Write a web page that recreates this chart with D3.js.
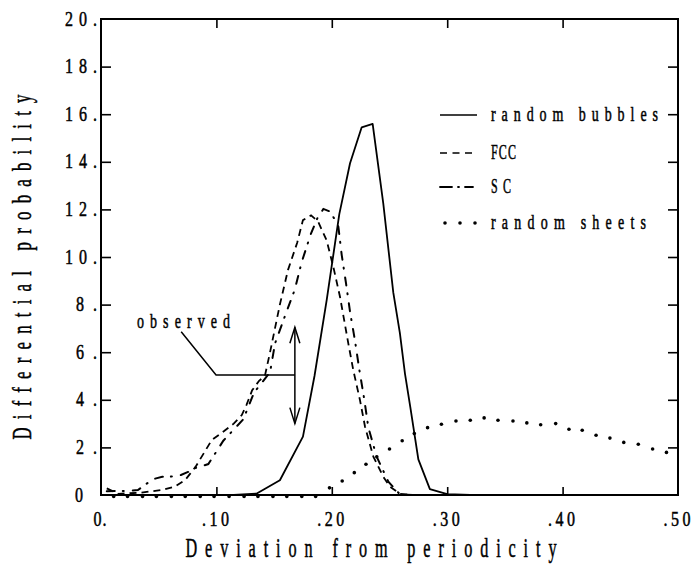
<!DOCTYPE html>
<html><head><meta charset="utf-8">
<script src="https://cdn.jsdelivr.net/npm/d3@7"></script>
<style>html,body{margin:0;padding:0;background:#fff;}svg{display:block;}</style>
</head><body>
<svg id="chart" width="693" height="564"></svg>
<script>
// ---------- data ----------
const xTicks = [0, 0.1, 0.2, 0.3, 0.4, 0.5];
const xTickLabels = ["0.", ".10", ".20", ".30", ".40", ".50"];
const yTicks = [0, 2, 4, 6, 8, 10, 12, 14, 16, 18, 20];
const yTickLabels = ["0", "2.", "4.", "6.", "8.", "10.", "12.", "14.", "16.", "18.", "20."];
const seriesNames = ["random bubbles", "FCC", "SC", "random sheets"];

const bubblesX = [0, 0.115, 0.135, 0.155, 0.175, 0.185, 0.1956, 0.2065, 0.2158, 0.2259, 0.2354, 0.2446, 0.2533, 0.259, 0.2634, 0.268, 0.275, 0.285, 0.30, 0.32, 0.5];
const bubblesY = [0, 0, 0.06, 0.62, 2.45, 5.0, 8.2, 11.8, 13.94, 15.45, 15.59, 12.25, 8.5, 6.8, 5.1, 3.7, 1.5, 0.25, 0.04, 0, 0];

const fccX = [0.005, 0.015, 0.035, 0.053, 0.064, 0.073, 0.082, 0.089, 0.096, 0.107, 0.115, 0.122, 0.126, 0.131, 0.137, 0.142, 0.1465, 0.155, 0.162, 0.170, 0.175, 0.182, 0.188, 0.1955, 0.2013, 0.2071, 0.2143, 0.2186, 0.2244, 0.2288, 0.236, 0.2446, 0.2504, 0.259, 0.27, 0.5];
const fccY = [0.28, 0.05, 0.1, 0.21, 0.35, 0.63, 1.19, 1.75, 2.31, 2.7, 3.0, 3.36, 3.78, 4.4, 4.8, 5.0, 6.0, 8.0, 9.45, 10.6, 11.55, 11.75, 11.5, 10.7, 9.59, 8.33, 6.37, 5.25, 3.99, 2.87, 1.61, 0.77, 0.35, 0.05, 0, 0];

const scX = [0.005, 0.0228, 0.032, 0.038, 0.0448, 0.053, 0.06, 0.0693, 0.076, 0.081, 0.093, 0.106, 0.1233, 0.1326, 0.1465, 0.1508, 0.1594, 0.168, 0.174, 0.1817, 0.1875, 0.1927, 0.199, 0.2057, 0.2086, 0.2123, 0.2158, 0.2201, 0.2239, 0.228, 0.2317, 0.2389, 0.249, 0.259, 0.27, 0.5];
const scY = [0.16, 0.17, 0.21, 0.42, 0.66, 0.77, 0.77, 0.84, 0.98, 1.12, 1.3, 2.28, 3.18, 4.3, 5.16, 6.37, 7.52, 8.64, 9.8, 10.95, 11.63, 12.02, 11.9, 11.27, 10.08, 8.9, 7.7, 6.48, 5.25, 4.06, 2.83, 1.61, 0.56, 0.03, 0, 0];

const sheetsX = [0.011, 0.023, 0.036, 0.048, 0.061, 0.073, 0.086, 0.098, 0.111, 0.124, 0.136, 0.149, 0.161, 0.174, 0.186, 0.198, 0.209, 0.2195, 0.2296, 0.239, 0.250, 0.261, 0.2715, 0.283, 0.295, 0.3076, 0.320, 0.332, 0.344, 0.357, 0.369, 0.381, 0.394, 0.4055, 0.417, 0.429, 0.441, 0.453, 0.4656, 0.478, 0.490];
const sheetsY = [0, 0, 0, 0, 0, 0, 0, 0, 0, 0, 0, 0, 0, 0, 0, 0.3, 0.59, 0.94, 1.29, 1.61, 1.93, 2.28, 2.58, 2.83, 2.97, 3.11, 3.14, 3.24, 3.14, 3.11, 3.03, 2.95, 3.0, 2.76, 2.72, 2.51, 2.39, 2.21, 2.13, 1.93, 1.79];

// observed annotation (data units)
const observedArrow = {x: 0.168, yLow: 3.0, yHigh: 7.05, yMid: 5.04, kneeX: 0.0997, startX: 0.0695, startY: 6.86};

// ---------- layout ----------
const svg = d3.select("#chart");
const L = 101, R = 678, T = 19, B = 495;
const x = d3.scaleLinear().domain([0, 0.5]).range([L, R]);
const y = d3.scaleLinear().domain([0, 20]).range([B, T]);
const FONT = "'Liberation Serif', 'DejaVu Serif', serif";

function ctext(str, px, py, size, width, anchor, sx, rot) {
  const g = svg.append("g").attr("transform", `translate(${px},${py})` + (rot ? ` rotate(${rot})` : "") + ` scale(${sx},1)`);
  const w = width / sx;
  let x0 = 0;
  if (anchor === "middle") x0 = -w / 2; else if (anchor === "end") x0 = -w;
  const t = g.append("text").attr("x", x0).attr("y", 0)
    .attr("font-family", FONT).attr("font-size", size).attr("fill", "#000")
    .attr("stroke", "#000").attr("stroke-width", 0.5)
    .attr("textLength", w).attr("lengthAdjust", "spacing").text(str);
  return t;
}

// ---------- axes (ticks only; labels drawn below) ----------
svg.append("g").attr("transform", `translate(${L},0)`)
  .call(d3.axisLeft(y).tickValues(yTicks.slice(1, -1)).tickSize(-10).tickFormat(""))
  .call(g => g.select(".domain").remove())
  .selectAll("line").attr("stroke", "#000").attr("stroke-width", 1.6);
svg.append("g").attr("transform", `translate(${R},0)`)
  .call(d3.axisRight(y).tickValues(yTicks.slice(1, -1)).tickSize(-10).tickFormat(""))
  .call(g => g.select(".domain").remove())
  .selectAll("line").attr("stroke", "#000").attr("stroke-width", 1.6);
svg.append("g").attr("transform", `translate(0,${B})`)
  .call(d3.axisBottom(x).tickValues(xTicks.slice(1, -1)).tickSize(-8).tickFormat(""))
  .call(g => g.select(".domain").remove())
  .selectAll("line").attr("stroke", "#000").attr("stroke-width", 1.6);
svg.append("g").attr("transform", `translate(0,${T})`)
  .call(d3.axisTop(x).tickValues(xTicks.slice(1, -1)).tickSize(-9).tickFormat(""))
  .call(g => g.select(".domain").remove())
  .selectAll("line").attr("stroke", "#000").attr("stroke-width", 1.6);

svg.append("rect").attr("x", L).attr("y", T).attr("width", R - L).attr("height", B - T)
  .attr("fill", "none").attr("stroke", "#000").attr("stroke-width", 2);

// tick labels
yTicks.forEach((v, i) => {
  const lab = yTickLabels[i];
  const w = lab.length === 3 ? 32 : 21;
  if (lab === "0") {
    ctext(lab, 75, y(v) + 6.5, 20, 8, "start", 0.8, 0);
  } else {
    ctext(lab, 97, y(v) + 6.5, 20, w, "end", 0.8, 0);
  }
});
xTicks.forEach((v, i) => {
  const lab = xTickLabels[i];
  const w = lab.length === 3 ? 27 : 13;
  ctext(lab, x(v) - 1, 526, 20, w, "middle", 0.8, 0);
});

// axis titles
ctext("Deviation from periodicity", 371, 557, 27, 371, "middle", 0.6, 0);
ctext("Differential probability", 31, 267, 28, 345, "middle", 0.6, -90);

// ---------- series ----------
const line = d3.line().x(d => x(d[0])).y(d => y(d[1]));
const plot = svg.append("g");
plot.append("path").datum(d3.zip(bubblesX, bubblesY)).attr("d", line)
  .attr("fill", "none").attr("stroke", "#000").attr("stroke-width", 1.8).attr("stroke-linejoin", "round");
plot.append("path").datum(d3.zip(fccX, fccY)).attr("d", line)
  .attr("fill", "none").attr("stroke", "#000").attr("stroke-width", 1.8).attr("stroke-dasharray", "7,5");
plot.append("path").datum(d3.zip(scX, scY)).attr("d", line)
  .attr("fill", "none").attr("stroke", "#000").attr("stroke-width", 2)
  .attr("stroke-dasharray", "8,8,1,9").attr("stroke-linecap", "round");
plot.selectAll("circle.sheet").data(d3.zip(sheetsX, sheetsY)).enter().append("circle")
  .attr("class", "sheet").attr("cx", d => x(d[0])).attr("cy", d => y(d[1]) + (d[1] === 0 ? 1.5 : 0)).attr("r", 1.8).attr("fill", "#000");

// ---------- legend ----------
const legY = [115, 153, 187, 223];
const lg = svg.append("g");
lg.append("line").attr("x1", 440).attr("x2", 477).attr("y1", legY[0]).attr("y2", legY[0]).attr("stroke", "#000").attr("stroke-width", 1.6);
lg.append("line").attr("x1", 440).attr("x2", 477).attr("y1", legY[1]).attr("y2", legY[1]).attr("stroke", "#000").attr("stroke-width", 1.6).attr("stroke-dasharray", "7,5.5");
lg.append("line").attr("x1", 440).attr("x2", 474).attr("y1", legY[2]).attr("y2", legY[2]).attr("stroke", "#000").attr("stroke-width", 1.8).attr("stroke-dasharray", "12,6,1,6,8").attr("stroke-linecap", "round");
[445, 460, 475].forEach(cx => lg.append("circle").attr("cx", cx).attr("cy", legY[3]).attr("r", 1.8).attr("fill", "#000"));
const legW = [167, 25, 20, 155];
const legSx = [0.7, 0.6, 0.6, 0.7];
seriesNames.forEach((n, i) => ctext(n, 491, legY[i] + 5.5, 20, legW[i], "start", legSx[i], 0));

// ---------- observed annotation ----------
const o = observedArrow;
svg.append("path")
  .attr("d", `M${x(o.startX)},${y(o.startY)} L${x(o.kneeX)},${y(o.yMid)} L${x(o.x)},${y(o.yMid)}`)
  .attr("fill", "none").attr("stroke", "#000").attr("stroke-width", 1.5);
svg.append("line").attr("x1", x(o.x)).attr("x2", x(o.x)).attr("y1", y(o.yHigh)).attr("y2", y(o.yLow))
  .attr("stroke", "#000").attr("stroke-width", 1.5);
const ax = x(o.x), ayH = y(o.yHigh), ayL = y(o.yLow);
svg.append("path").attr("d", `M${ax - 5},${ayH + 16} L${ax},${ayH} L${ax + 5},${ayH + 16}`).attr("fill", "none").attr("stroke", "#000").attr("stroke-width", 1.5);
svg.append("path").attr("d", `M${ax - 5},${ayL - 16} L${ax},${ayL} L${ax + 5},${ayL - 16}`).attr("fill", "none").attr("stroke", "#000").attr("stroke-width", 1.5);
ctext("observed", 137, 328, 20, 93, "start", 0.7, 0);
</script>
</body></html>
